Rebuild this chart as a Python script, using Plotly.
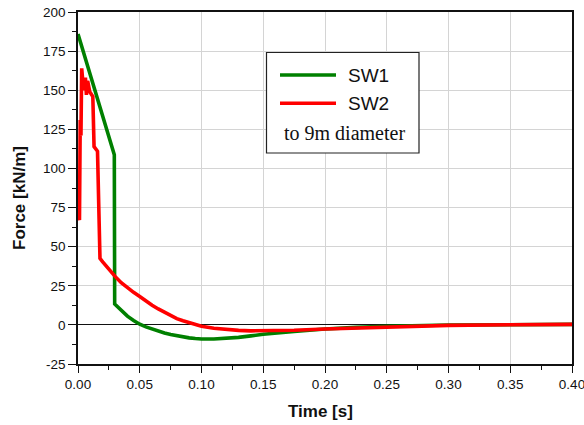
import plotly.graph_objects as go

# Force history for SW1 (time in s, force in kN/m)
t_sw1 = [0.0, 0.0294, 0.0297, 0.035, 0.04, 0.045, 0.05, 0.055, 0.06, 0.065,
         0.07, 0.075, 0.08, 0.085, 0.09, 0.095, 0.10, 0.11, 0.12, 0.13,
         0.14, 0.15, 0.175, 0.20, 0.225, 0.25, 0.30, 0.35, 0.40]
f_sw1 = [186.0, 108.7, 13.4, 9.6, 5.6, 2.8, 0.4, -1.3, -2.8, -4.1,
         -5.2, -6.2, -7.0, -7.7, -8.3, -8.7, -9.0, -9.0, -8.6, -8.0,
         -7.0, -6.0, -4.2, -2.6, -1.6, -0.9, -0.1, 0.2, 0.3]

# Force history for SW2
t_sw2 = [0.0, 0.0012, 0.0018, 0.0024, 0.0030, 0.0045, 0.0060, 0.0068, 0.0078,
         0.0095, 0.0120, 0.0130, 0.0158, 0.0178, 0.02, 0.025, 0.03, 0.035,
         0.04, 0.045, 0.05, 0.055, 0.06, 0.065, 0.07, 0.075, 0.08, 0.085,
         0.09, 0.095, 0.10, 0.11, 0.12, 0.13, 0.14, 0.15, 0.175, 0.20,
         0.25, 0.30, 0.35, 0.40]
f_sw2 = [71.0, 67.0, 131.0, 121.0, 164.0, 150.0, 158.0, 147.0, 156.0,
         149.0, 146.0, 114.0, 111.0, 42.5, 40.3, 35.5, 31.0, 27.0,
         23.8, 20.8, 18.2, 15.2, 12.6, 10.2, 8.0, 5.8, 4.0, 2.6,
         1.3, 0.1, -0.9, -2.2, -3.0, -3.5, -3.8, -3.8, -3.4, -2.6,
         -1.2, -0.3, 0.1, 0.3]

series_names = ["SW1", "SW2"]
series_colors = ["#008000", "#ff0000"]
note_text = "to 9m diameter"

# tick positions and labels
x_ticks = [0.0, 0.05, 0.10, 0.15, 0.20, 0.25, 0.30, 0.35, 0.40]
x_ticklabels = ["0.00", "0.05", "0.10", "0.15", "0.20", "0.25", "0.30", "0.35", "0.40"]
y_ticks = [-25, 0, 25, 50, 75, 100, 125, 150, 175, 200]
y_ticklabels = ["-25", "0", "25", "50", "75", "100", "125", "150", "175", "200"]

x_title = "Time [s]"
y_title = "Force [kN/m]"

W, H = 584, 425
ML, MR, MT, MB = 78, 12, 12, 61
PW, PH = W - ML - MR, H - MT - MB


def px(xp):
    return (xp - ML) / PW


def py(yp):
    return (H - MB - yp) / PH


fig = go.Figure()
for tt, ff, name, col in [(t_sw1, f_sw1, series_names[0], series_colors[0]),
                          (t_sw2, f_sw2, series_names[1], series_colors[1])]:
    fig.add_trace(go.Scatter(x=tt, y=ff, mode="lines", name=name,
                             line=dict(color=col, width=3.6),
                             showlegend=False))

axis_font = dict(family="Liberation Sans, Arial, sans-serif", size=13.5, color="#111")

fig.update_xaxes(range=[0, 0.4000001], tickmode="array", tickvals=x_ticks,
                 ticktext=x_ticklabels, automargin=False, ticklabeloverflow="allow",
                 showgrid=True, gridcolor="#d4d4d4", gridwidth=1,
                 zeroline=False, showline=True, linecolor="#111", linewidth=1.6,
                 mirror=True, ticks="outside", ticklen=7, tickwidth=1.4,
                 tickcolor="#111", tickfont=axis_font, layer="below traces",
                 minor=dict(dtick=0.025, ticks="outside", ticklen=4,
                            tickwidth=1.2, tickcolor="#111", showgrid=False))
fig.update_yaxes(range=[-25, 200], tickmode="array", tickvals=y_ticks,
                 ticktext=y_ticklabels, automargin=False, ticklabeloverflow="allow",
                 showgrid=True, gridcolor="#d4d4d4", gridwidth=1,
                 zeroline=True, zerolinecolor="#111", zerolinewidth=1,
                 showline=True, linecolor="#111", linewidth=1.6,
                 mirror=True, ticks="outside", ticklen=8, tickwidth=1.4,
                 tickcolor="#111", tickfont=axis_font, layer="below traces",
                 minor=dict(dtick=12.5, ticks="outside", ticklen=4,
                            tickwidth=1.2, tickcolor="#111", showgrid=False))

shapes = []
annotations = []

# legend frame
shapes.append(dict(type="rect", xref="paper", yref="paper",
                   x0=px(266.5), x1=px(419), y0=py(153), y1=py(52.5),
                   line=dict(color="#222", width=1.2), fillcolor="white",
                   layer="above"))
for i, (name, col) in enumerate(zip(series_names, series_colors)):
    yl = 75 + i * 28.3
    shapes.append(dict(type="line", xref="paper", yref="paper",
                       x0=px(280), x1=px(336), y0=py(yl), y1=py(yl),
                       line=dict(color=col, width=3.6), layer="above"))
    annotations.append(dict(text=name, xref="paper", yref="paper",
                            x=px(346), y=py(yl), xanchor="left", yanchor="middle",
                            showarrow=False,
                            font=dict(family="Liberation Sans, Arial, sans-serif",
                                      size=19, color="#111")))
annotations.append(dict(text=note_text, xref="paper", yref="paper",
                        x=px(344), y=py(132.5), xanchor="center", yanchor="middle",
                        showarrow=False,
                        font=dict(family="Liberation Serif, Times New Roman, serif",
                                  size=20, color="#111")))

# axis titles
annotations.append(dict(text="<b>" + x_title + "</b>", xref="paper", yref="paper",
                        x=px(320), y=py(411), xanchor="center", yanchor="middle",
                        showarrow=False,
                        font=dict(family="Liberation Sans, Arial, sans-serif",
                                  size=17, color="#111")))
annotations.append(dict(text="<b>" + y_title + "</b>", xref="paper", yref="paper",
                        x=px(20), y=py(198), xanchor="center", yanchor="middle",
                        textangle=-90, showarrow=False,
                        font=dict(family="Liberation Sans, Arial, sans-serif",
                                  size=17, color="#111")))

fig.update_layout(width=W, height=H,
                  margin=dict(l=ML, r=MR, t=MT, b=MB, pad=0, autoexpand=False),
                  paper_bgcolor="white", plot_bgcolor="white",
                  shapes=shapes, annotations=annotations, showlegend=False)

fig.write_html("out.html")
